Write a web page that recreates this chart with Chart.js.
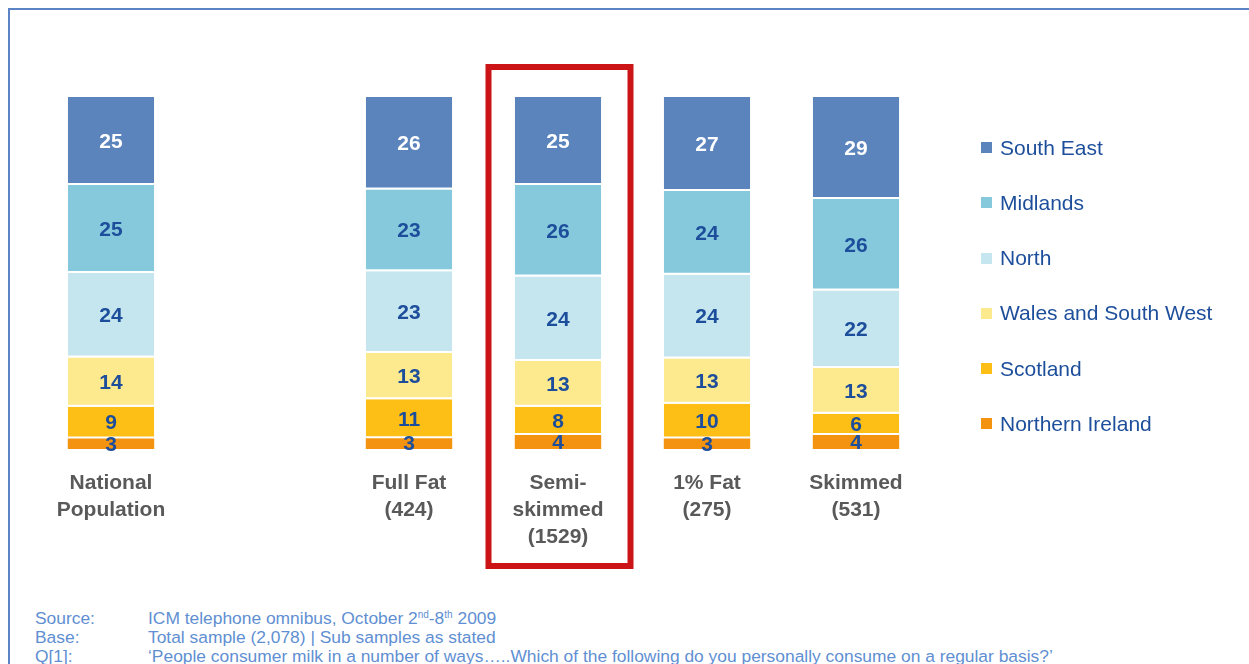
<!DOCTYPE html>
<html>
<head>
<meta charset="utf-8">
<script src="https://cdn.jsdelivr.net/npm/chart.js@4.4.1/dist/chart.umd.min.js"></script>
<style>
  html, body { margin: 0; padding: 0; background: #fff; overflow: hidden; }
  body { width: 1249px; height: 664px; position: relative; font-family: "Liberation Sans", Arial, sans-serif; }
  .frame { position: absolute; left: 8px; top: 8px; width: 1400px; height: 800px;
           border-top: 2px solid #5b84c4; border-left: 2px solid #5b84c4; }
  #wrap { position: absolute; left: 0; top: 0; width: 1249px; height: 600px; }
  .legend { position: absolute; left: 981px; top: 134px; }
  .legend-row { display: flex; align-items: center; height: 27px; margin-bottom: 28.3px;
                font-size: 21px; color: #1d4e9b; }
  .legend-box { width: 11px; height: 11px; margin-right: 8px; }
  .footer { position: absolute; left: 35px; top: 609px; font-size: 17.4px; line-height: 19px; color: #5f8fd2; }
  .footer-row { display: flex; white-space: nowrap; }
  .footer-k { width: 113px; }
  sup { font-size: 10px; line-height: 0; vertical-align: 6px; }
</style>
</head>
<body>
<div class="frame"></div>
<div id="wrap"><canvas id="chart"></canvas></div>
<div class="legend" id="legend"></div>
<div class="footer">
  <div class="footer-row"><div class="footer-k">Source:</div><div>ICM telephone omnibus, October 2<sup>nd</sup>-8<sup>th</sup> 2009</div></div>
  <div class="footer-row"><div class="footer-k">Base:</div><div>Total sample (2,078) | Sub samples as stated</div></div>
  <div class="footer-row"><div class="footer-k">Q[1]:</div><div>‘People consumer milk in a number of ways…..Which of the following do you personally consume on a regular basis?’</div></div>
</div>
<script>
// ---------------------------------------------------------------------
// DATI (% per regione, una colonna vuota tra popolazione e tipi di latte)
// ---------------------------------------------------------------------
const CATEGORIE = [
  ['National', 'Population'],
  '',
  ['Full Fat', '(424)'],
  ['Semi-', 'skimmed', '(1529)'],
  ['1% Fat', '(275)'],
  ['Skimmed', '(531)'],
];

const SOUTH_EAST = [25, null, 26, 25, 27, 29];
const MIDLANDS   = [25, null, 23, 26, 24, 26];
const NORTH      = [24, null, 23, 24, 24, 22];
const WALES_SW   = [14, null, 13, 13, 13, 13];
const SCOTLAND   = [9,  null, 11, 8,  10, 6];
const N_IRELAND  = [3,  null, 3,  4,  3,  4];

const EVIDENZIATA = 3;   // colonna con il riquadro rosso

// serie dal basso verso l'alto
const SERIE = [
  { nome: 'Northern Ireland',     valori: N_IRELAND,  colore: '#f4930f', testo: '#1d4e9b' },
  { nome: 'Scotland',             valori: SCOTLAND,   colore: '#fdbe15', testo: '#1d4e9b' },
  { nome: 'Wales and South West', valori: WALES_SW,   colore: '#fde98e', testo: '#1d4e9b' },
  { nome: 'North',                valori: NORTH,      colore: '#c5e5ef', testo: '#1d4e9b' },
  { nome: 'Midlands',             valori: MIDLANDS,   colore: '#86c9dc', testo: '#1d4e9b' },
  { nome: 'South East',           valori: SOUTH_EAST, colore: '#5b84bd', testo: '#ffffff' },
];

// grafico 100% in pila: ogni colonna normalizzata sul proprio totale
const totali = CATEGORIE.map((_, i) => SERIE.reduce((s, d) => s + (d.valori[i] || 0), 0));
const perc = (v, i) => v == null ? null : v / totali[i] * 100;

// ---------------------------------------------------------------------
// LEGENDA (html, dall'alto verso il basso)
// ---------------------------------------------------------------------
const legend = document.getElementById('legend');
SERIE.slice().reverse().forEach(s => {
  const row = document.createElement('div');
  row.className = 'legend-row';
  row.innerHTML = `<div class="legend-box" style="background:${s.colore}"></div><div>${s.nome}</div>`;
  legend.appendChild(row);
});

// ---------------------------------------------------------------------
// PLUGIN: etichette valori + riquadro rosso
// ---------------------------------------------------------------------
const etichette = {
  id: 'etichette',
  afterDatasetsDraw(chart) {
    const ctx = chart.ctx;
    ctx.save();
    ctx.font = 'bold 21px "Liberation Sans", Arial, sans-serif';
    ctx.textAlign = 'center';
    ctx.textBaseline = 'middle';
    chart.data.datasets.forEach((ds, di) => {
      const meta = chart.getDatasetMeta(di);
      meta.data.forEach((bar, i) => {
        const v = SERIE[di].valori[i];
        if (v == null) return;
        const y = (bar.y + bar.base) / 2;
        ctx.fillStyle = SERIE[di].testo;
        ctx.fillText(String(v), bar.x, y + 1);
      });
    });
    ctx.restore();
  },
  afterDraw(chart) {
    const ctx = chart.ctx;
    const xs = chart.scales.x;
    const area = chart.chartArea;
    const cx = xs.getPixelForValue(EVIDENZIATA);
    ctx.save();
    ctx.strokeStyle = '#cc1417';
    ctx.lineWidth = 6;
    ctx.strokeRect(cx - 69.5, area.top - 30, 142, area.bottom - area.top + 147);
    ctx.restore();
  }
};

new Chart(document.getElementById('chart').getContext('2d'), {
  type: 'bar',
  data: {
    labels: CATEGORIE,
    datasets: SERIE.map((s, di) => ({
      label: s.nome,
      data: s.valori.map(perc),
      backgroundColor: s.colore,
      borderColor: '#ffffff',
      borderWidth: di === 0 ? 0 : { top: 0, left: 0, right: 0, bottom: 2 },
      borderSkipped: false,
      categoryPercentage: 1,
      barPercentage: 0.58,
    }))
  },
  options: {
    responsive: true,
    maintainAspectRatio: false,
    animation: false,
    layout: { padding: { left: 36.5, right: 318.5, top: 97, bottom: 0 } },
    scales: {
      x: {
        stacked: true,
        grid: { display: false, drawTicks: false },
        border: { display: false },
        ticks: {
          color: '#595959',
          padding: 21,
          font: { family: '"Liberation Sans", Arial, sans-serif', size: 21, weight: 'bold', lineHeight: '27px' },
          maxRotation: 0,
          autoSkip: false,
        },
        afterFit: s => { s.height = 151; }
      },
      y: { stacked: true, min: 0, max: 100, display: false }
    },
    plugins: {
      legend: { display: false },
      tooltip: { enabled: false }
    }
  },
  plugins: [etichette]
});
</script>
</body>
</html>
